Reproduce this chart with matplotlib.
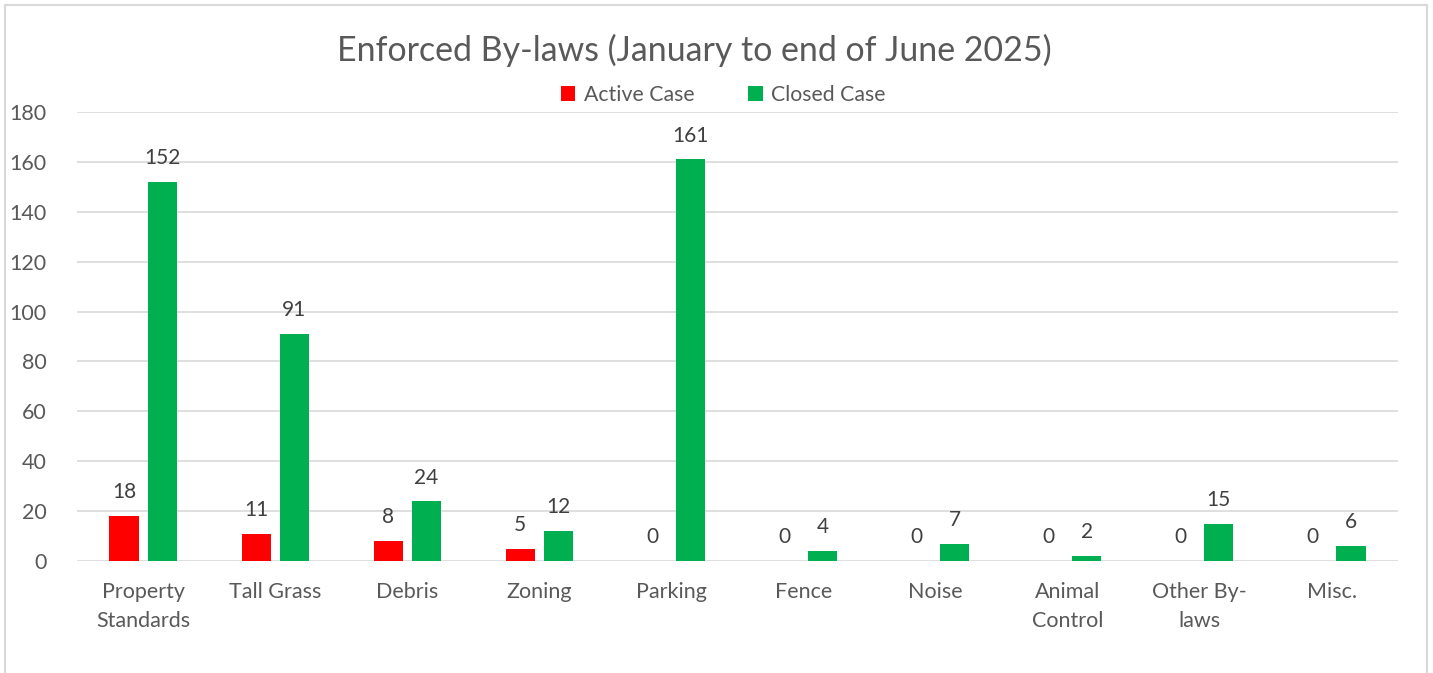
import matplotlib.pyplot as plt
from matplotlib.patches import Rectangle
import numpy as np

categories = ["Property\nStandards", "Tall Grass", "Debris", "Zoning", "Parking",
              "Fence", "Noise", "Animal\nControl", "Other By-\nlaws", "Misc."]
active = [18, 11, 8, 5, 0, 0, 0, 0, 0, 0]
closed = [152, 91, 24, 12, 161, 4, 7, 2, 15, 6]
yticks = [0, 20, 40, 60, 80, 100, 120, 140, 160, 180]

plt.rcParams['font.family'] = ['Lato', 'DejaVu Sans']
txt = '#595959'

fig = plt.figure(figsize=(14.33, 6.73), dpi=100)
ax = fig.add_axes([77 / 1433, 1 - 561 / 673, (1398 - 77) / 1433, (561 - 112) / 673])

x = np.arange(len(categories))
w = 0.22
off = 0.144
ax.bar(x - off, active, w, color='#ff0000', label='Active Case', zorder=3)
ax.bar(x + off, closed, w, color='#00b050', label='Closed Case', zorder=3)

for xi, a, c in zip(x, active, closed):
    ax.annotate(str(a), (xi - off, a), xytext=(0, 17), textcoords='offset points',
                ha='center', va='center', fontsize=15, color='#404040')
    ax.annotate(str(c), (xi + off, c), xytext=(0, 17), textcoords='offset points',
                ha='center', va='center', fontsize=15, color='#404040')

ax.set_xlim(-0.5, len(categories) - 0.5)
ax.set_ylim(0, 180)
ax.set_yticks(yticks)
ax.set_xticks(x)
ax.set_xticklabels(categories, fontsize=15.5, color=txt, linespacing=1.6)
ax.tick_params(axis='y', labelsize=15.5, labelcolor=txt, length=0, pad=22)
ax.tick_params(axis='x', length=0, pad=15)
ax.grid(axis='y', color='#d9d9d9', linewidth=1.2, zorder=0)
for s in ax.spines.values():
    s.set_visible(False)

fig.text(694 / 1433, 1 - 50 / 673, "Enforced By-laws (January to end of June 2025)",
         ha='center', va='center', fontsize=24.4, color=txt)
fig.legend(loc='center', bbox_to_anchor=(723 / 1433, 1 - 95 / 673), ncol=2, frameon=False,
           fontsize=15.3, labelcolor=txt, handlelength=0.7, handleheight=0.7,
           handletextpad=0.4, columnspacing=2.5)

# chart border
fig.patches.append(Rectangle((5 / 1433, -0.05), 1422 / 1433, 1.05 - 5 / 673,
                             transform=fig.transFigure, fill=False,
                             edgecolor='#d9d9d9', linewidth=1.5))

fig.savefig('out.png', dpi=100)
